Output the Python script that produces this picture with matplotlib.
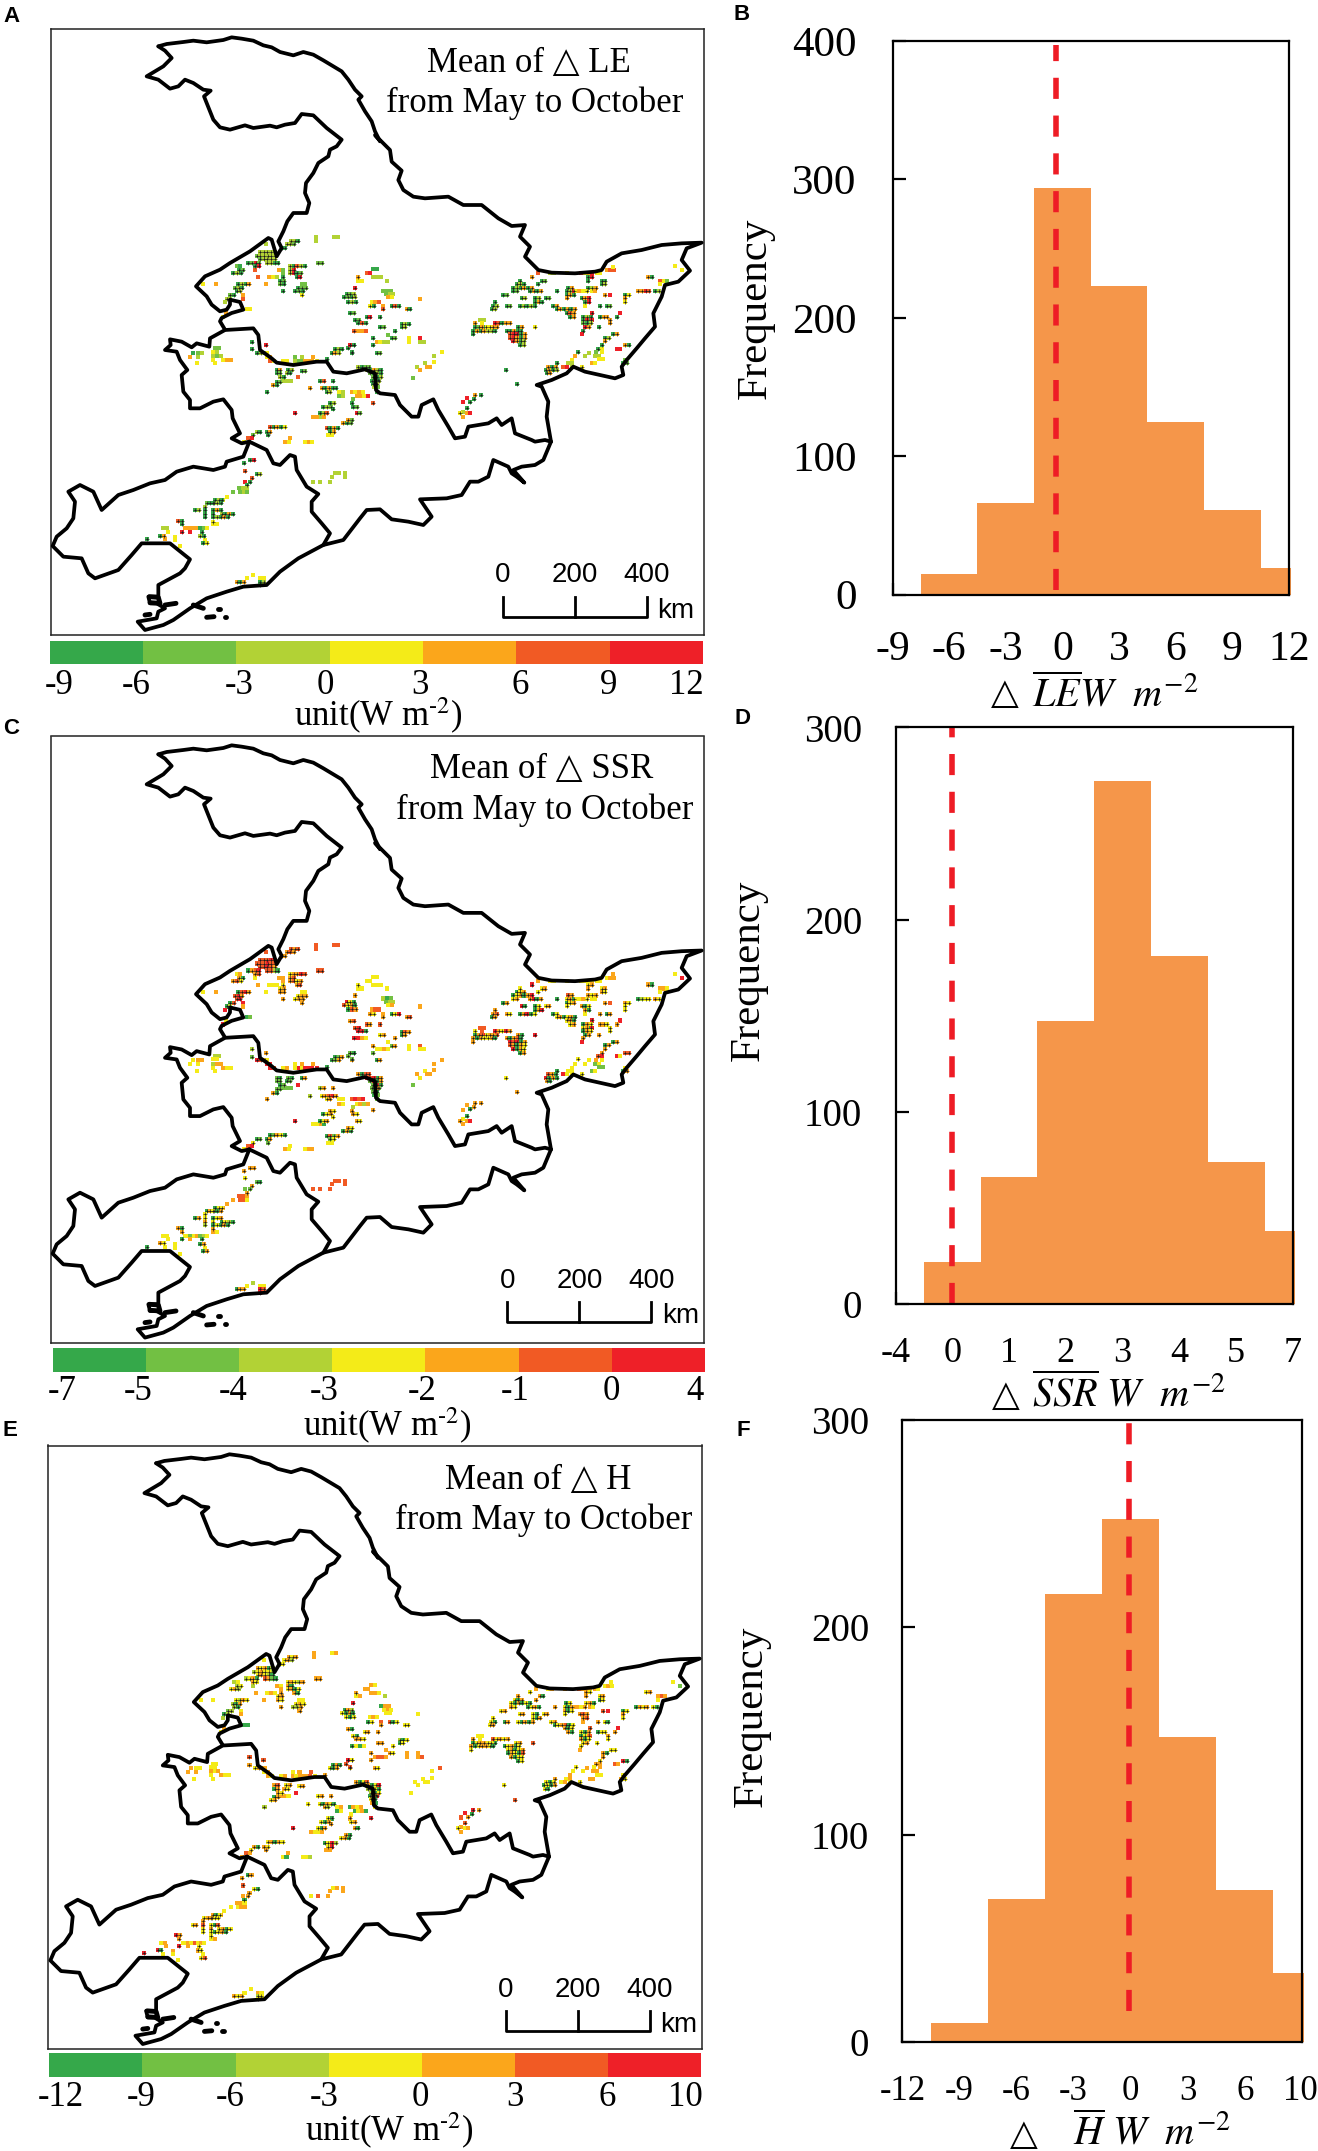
import matplotlib
matplotlib.use("Agg")
import matplotlib.pyplot as plt

W, H = 1318, 2151

# boundaries, traced on panel A in three crops, (origin x, origin y, points at 3x)
borderTraces = [
(50, 28, [(325,55),(350,48),(400,42),(430,38),(470,43),(520,36),(545,28),(575,32),(610,38),(640,52),(665,58),(690,72),(730,82),(760,72),(790,80),(820,97),(850,115),(875,130),(895,155),(915,185),(935,205),(925,215),(945,250),(965,280),(975,310),(990,340)]),
(50, 28, [(325,55),(345,68),(365,90),(340,115),(290,145),(325,155),(360,182),(385,175),(405,155),(430,165),(460,185),(482,188),(462,205),(470,225),(490,275),(510,298),(540,305),(585,292),(610,300),(660,293),(680,298),(705,290),(735,285),(755,258),(790,262),(830,300),(875,335),(860,355),(840,365),(835,385),(805,405),(790,435),(768,465),(765,495),(778,525),(770,555),(730,555),(712,580),(700,610),(685,640),(695,660),(680,685),(665,635),(655,630),(600,670),(540,705),(510,725),(465,745),(438,775),(470,805),(485,830),(510,850),(530,845),(540,830),(540,815),(570,822),(580,845),(545,855),(515,870),(510,880),(525,905)]),
(375, 100, [(15,123),(0,105),(45,150),(50,185),(80,212),(70,240),(85,270),(115,290),(150,295),(220,290),(265,315),(320,315),(370,355),(410,378),(450,375),(435,410),(465,440),(450,470),(490,510),(530,518),(600,520),(660,515),(680,510),(695,485),(740,460),(800,450),(860,435),(920,430),(980,428),(935,445),(920,480),(945,512),(910,545),(870,555),(860,590),(835,640),(840,680),(810,715),(785,745),(755,780),(740,800),(745,825),(720,835),(630,815),(595,800),(575,820),(530,840),(485,855),(500,860),(520,905),(515,950),(528,1025)]),
(375, 310, [(528,395),(505,450),(480,465),(440,470),(415,480),(448,518),(425,500),(410,490),(400,470),(355,450),(340,500),(310,515),(285,515),(260,555),(215,565),(135,568),(170,620),(145,645),(100,635),(50,628),(15,598),(-25,600),(-45,625),(-95,690),(-155,705),(-230,745),(-285,785),(-325,825),(-395,830),(-445,845),(-505,865),(-555,895),(-605,930),(-635,945),(-690,960),(-712,935),(-655,925),(-650,905),(-630,895),(-655,880),(-675,880),(-680,860),(-650,860),(-650,825),(-585,790),(-570,775),(-555,748),(-615,700),(-700,700),(-730,735),(-770,780),(-840,805),(-860,790),(-880,745),(-935,740),(-967,708),(-955,680),(-925,655),(-905,625),(-900,575),(-920,545),(-885,525),(-845,545),(-820,600),(-770,555),(-725,540),(-675,520),(-630,510),(-595,485),(-545,470),(-485,480),(-450,470),(-445,455),(-395,440),(-377,395)]),
(50, 310, [(598,395),(575,400),(545,385),(570,370),(548,325),(545,300),(520,268),(490,275),(450,295),(420,295),(420,270),(400,245),(395,195),(412,180),(390,150),(380,125),(345,120),(362,105),(360,88),(395,95),(425,112),(440,100),(478,110),(480,85),(525,60),(610,55),(625,75),(630,120),(665,145),(680,158),(730,165),(800,155),(830,155),(850,185),(890,190),(945,178),(975,190),(978,240),(990,250),(1035,255),(1050,285),(1085,320),(1105,320),(1115,285),(1150,268),(1165,300),(1195,350),(1215,385),(1245,380),(1255,350),(1315,340),(1340,325),(1355,345),(1385,325),(1395,370),(1445,390),(1455,395),(1485,390),(1503,395)]),
(50, 310, [(598,395),(650,420),(670,460),(690,465),(720,435),(735,440),(740,480),(770,530),(805,552),(785,575),(785,605),(815,640),(840,670),(820,705)]),
]
thickBlobs = [
(50, 310, [(298,860),(325,862),(330,880),(300,878)]),
(50, 310, [(345,885),(378,880)]),
(50, 310, [(285,915),(300,913)]),
(50, 310, [(430,885),(460,895)]),
(50, 310, [(470,922),(492,920)]),
(50, 310, [(505,896),(509,896)]),
(50, 310, [(524,920),(528,920)]),
]

# grid cells: x, y, significant, class per cell in A, C, E
# crop at x=180, y=220
midCells = [
(408,52,0,"2","5","4"),(408,63,0,"2","5","4"),(462,52,0,"22","55","34"),
(333,62,1,"220","545","434"),(320,73,1,"221","454","342"),(305,84,1,"20","54","23"),(258,72,0,"2","5","3"),
(240,96,1,"22222","55565","43402"),(230,107,1,"122222","555655","234332"),(240,118,1,"12222","55654","34320"),
(205,128,1,"0161","0456","2340"),(262,128,1,"2200","5520","5410"),(415,128,1,"11","55","44"),
(170,138,0,"10","34","23"),(225,138,1,"06","45","43"),(330,138,1,"20520","34465","34324"),
(178,150,1,"01","40","23"),(298,150,0,"4","4","4"),(310,150,0,"1","4","3"),(330,150,1,"26","45","40"),(225,150,0,"5","3","2"),
(160,160,1,"020","453","342"),(310,160,0,"1","4","4"),(330,160,1,"2601","4534","3403"),(235,172,0,"5","4","4"),(268,172,0,"4","3","3"),(280,172,0,"32","33","43"),(310,172,1,"0","3","4"),(350,172,1,"06","45","40"),
(258,192,0,"4","3","4"),(300,182,1,"01","34","34"),(70,192,0,"3","3","3"),(107,192,0,"4","4","3"),(175,192,1,"0204","0564","3243"),(300,192,1,"10","44","43"),(365,192,0,"11","33","33"),
(165,204,1,"120","564","204"),(355,204,1,"011","344","343"),(310,214,1,"0","4","4"),(345,214,1,"01","34","22"),(370,214,1,"0","4","4"),(170,214,1,"02","56","20"),
(150,225,1,"10","05","12"),(190,225,0,"4","6","3"),(365,225,1,"3","4","4"),(190,236,0,"5","4","4"),(140,236,1,"22","02","02"),(135,246,0,"2","6","2"),(200,268,0,"33","01","00"),(130,290,0,"3","6","3"),(138,280,0,"4","3","4"),
(580,148,0,"00","33","43"),(560,160,0,"56","33","44"),(535,172,1,"4","3","4"),(580,172,0,"222","333","443"),(535,182,0,"33","33","34"),(622,182,0,"2","3","2"),
(610,212,0,"111","201","044"),(525,203,1,"6","4","6"),(500,222,1,"012","630","042"),(618,222,0,"122","122","343"),(493,232,1,"0102","5340","3040"),(625,232,0,"43","34","33"),(720,236,0,"4","4","3"),
(505,245,1,"020","054","303"),(575,245,0,"345","455","343"),(570,258,1,"30","43","03"),(635,258,1,"050","036","503"),(610,258,0,"4","4","5"),(610,268,1,"5","4","4"),(680,268,1,"40","45","33"),(510,280,1,"01","45","40"),
(560,290,1,"06","54","34"),(600,290,1,"0","5","4"),(525,300,1,"01","56","30"),(535,310,1,"050","660","443"),(665,312,1,"020","054","203"),(665,322,1,"02","04","03"),(600,322,1,"01","34","44"),(523,332,1,"5","6","0"),(535,332,0,"445","643","303"),(645,332,1,"0","4","3"),
(625,344,0,"1","3","4"),(580,354,1,"0","4","4"),(635,354,1,"01","14","43"),(720,354,0,"6","5","4"),(590,365,0,"4322","3343","4554"),(688,354,0,"3","3","4"),(688,365,0,"3","3","4"),(720,365,0,"22","33","45"),
(580,375,1,"0","1","4"),(510,375,1,"50","30","60"),(505,385,1,"0","1","5"),(515,398,1,"0","4","3"),(590,398,1,"01","04","43"),
]
# crop at x=375, y=310
farCells = [
(200,127,0,"3","4","5"),(178,138,0,"2","4","3"),(178,157,0,"3","4","3"),(150,160,0,"2","3","3"),(125,170,0,"2","4","3"),(135,180,0,"4","3","3"),(155,170,0,"44","44","33"),(113,203,0,"1","1","3"),
]
# crop at x=50, y=310
southCells = [
(605,95,1,"0","2","5"),(647,105,1,"6","4","5"),(605,118,1,"0","1","4"),(622,128,1,"020","654","345"),(650,128,0,"3","3","4"),(650,140,0,"34","66","34"),(735,140,0,"1","3","3"),(755,140,0,"2","4","4"),(788,140,0,"4","4","5"),
(660,152,0,"53","65","43"),(700,152,0,"33","34","34"),(735,152,0,"211","363","434"),(765,152,0,"444","666","445"),(800,152,0,"3","6","3"),(830,148,1,"0","0","4"),
(855,118,1,"020","014","040"),(845,128,1,"042","014","304"),(900,105,1,"60","10","63"),(905,125,1,"0","1","5"),
(680,180,1,"04","10","45"),(715,180,1,"02","10","34"),(755,182,1,"01","04","34"),(680,190,1,"01","11","04"),(710,190,1,"20","01","43"),
(700,212,0,"222","111","443"),(745,202,0,"5","6","6"),(690,202,1,"20","01","43"),(680,215,1,"01","11","04"),(670,225,1,"40","40","34"),(650,245,1,"0","4","2"),
(810,212,1,"05","24","34"),(850,212,1,"0","4","4"),(780,235,1,"4","2","3"),(815,235,1,"40400","34564","30430"),(830,245,1,"02","34","42"),(868,245,0,"32","33","34"),(905,245,0,"4343","5656","0434"),
(868,258,0,"12","43","03"),(920,258,0,"4436","3424","0340"),(910,268,0,"1","2","3"),(905,280,1,"0","4","4"),(970,278,1,"5","4","6"),(840,280,1,"02","43","30"),(820,290,1,"021","034","304"),(850,297,1,"0","3","4"),(910,290,1,"01","43","34"),
(790,320,0,"4424","3340","4334"),(810,310,1,"025","034","304"),(920,310,1,"61","43","40"),(735,310,1,"6","6","6"),(880,340,1,"401","040","340"),(895,330,1,"41","43","40"),
(830,355,1,"5040","0514","0362"),(840,365,1,"04","13","36"),(835,375,0,"33","33","44"),(660,352,1,"50403","01430","34043"),(650,365,1,"04","04","43"),(655,375,1,"0","1","4"),
(720,385,0,"4","3","4"),(705,395,0,"43","43","30"),(765,395,0,"343","344","332"),(620,365,1,"20","01","40"),(610,375,1,"1","3","3"),(595,385,0,"56","56","54"),(583,395,0,"3","3","4"),
(925,170,1,"2011","4055","4035"),(950,180,1,"20420","65604","24036"),(960,190,1,"1020","1604","2030"),(970,202,1,"102","160","203"),(965,212,1,"012","101","026"),(970,222,1,"02","10","30"),(972,232,0,"21","01","40"),(985,210,1,"0","4","4"),(980,245,1,"0","1","3"),
(495,115,0,"11","22","33"),(430,128,0,"0","3","4"),(445,128,0,"12","44","33"),(490,125,0,"32","33","33"),(420,140,0,"4","3","4"),(445,140,0,"2","3","4"),(440,160,0,"3","3","3"),(490,138,0,"212","244","434"),(490,150,0,"3","3","3"),(520,150,0,"344","433","433"),(495,160,0,"3","3","3"),
(600,450,1,"06","44","04"),(583,460,1,"0","4","4"),(585,482,1,"5","3","5"),(620,492,1,"02","10","30"),(605,505,1,"5","4","4"),(585,515,0,"6","1","4"),(600,515,1,"0","1","4"),(590,525,1,"0","4","0"),
(568,535,0,"122","554","443"),(570,547,0,"121","553","344"),(550,547,0,"1","4","3"),(530,560,0,"3","4","3"),(520,570,0,"3","4","4"),(495,570,1,"020","033","403"),(470,580,1,"103","042","343"),(490,580,1,"020","304","433"),(435,600,1,"02","04","34"),(465,590,1,"2","3","4"),
(465,600,1,"0","3","5"),(490,600,1,"040","034","305"),(465,612,1,"0","4","3"),(490,612,1,"0","3","4"),(515,612,1,"2040","0320","3403"),(465,622,1,"0","2","3"),(490,622,1,"02040","03040","30340"),(490,635,1,"3","4","3"),
(385,632,1,"50","40","64"),(395,642,1,"0","4","4"),(490,642,0,"33","43","34"),(405,655,0,"44","33","33"),(420,655,0,"444","134","435"),(450,655,0,"01","12","34"),(340,655,0,"22","33","34"),(355,665,0,"3","3","4"),(395,665,1,"6","0","6"),
(420,665,0,"6","4","4"),(455,665,1,"0","0","3"),(470,655,0,"3","3","3"),(330,677,1,"04","43","60"),(375,680,0,"3","3","4"),(345,688,0,"4","3","3"),(290,687,1,"0","0","6"),(450,678,1,"20","04","43"),(465,690,0,"3","3","3"),(375,690,0,"3","3","3"),(460,700,1,"03","04","35"),(390,708,0,"3","3","3"),
(560,815,1,"404","044","434"),(590,805,0,"3","3","3"),(610,795,0,"3","2","3"),(630,805,0,"33","33","43"),(630,815,1,"02","65","23"),(630,825,1,"0","6","3"),
(788,515,0,"2","5","3"),(810,515,0,"2","5","5"),(840,515,0,"2","5","4"),(845,500,0,"2","5","4"),(855,490,0,"22","55","34"),(885,490,0,"2","5","4"),(885,500,0,"2","5","4"),
]
# crop at x=375, y=100
eastCells = [
(490,520,0,"5","4","4"),(525,520,0,"22","33","34"),(575,520,0,"3","3","4"),(618,520,0,"6","3","5"),(630,520,0,"34","33","44"),(652,520,0,"6","3","4"),(665,520,0,"33","33","43"),(695,510,0,"455","344","343"),(715,500,0,"3","4","3"),
(470,530,1,"4","6","3"),(640,530,1,"06","34","43"),(435,542,1,"0","3","4"),(500,542,1,"01","34","40"),(640,542,1,"0","4","4"),(680,542,1,"00","34","34"),
(425,553,1,"020","034","304"),(490,553,1,"0","3","4"),(680,553,1,"02","43","03"),(415,563,1,"0204","0340","3040"),(460,563,1,"04","46","30"),(580,563,1,"04","54","03"),(640,563,1,"024","434","340"),
(415,574,1,"01","34","43"),(465,574,1,"0404","4604","0340"),(545,574,1,"0","0","4"),(575,574,1,"026","340","304"),(602,574,0,"343","334","443"),(635,574,1,"3","3","4"),(650,574,0,"34","33","43"),(690,585,1,"4","4","5"),(705,585,0,"6","5","6"),
(385,585,1,"01","04","34"),(440,595,1,"02","60","34"),(575,585,1,"040","034","403"),(480,595,1,"02","03","30"),(512,595,1,"01","34","34"),(575,595,1,"4","3","3"),(620,595,1,"046","403","454"),(750,585,1,"03","43","03"),
(360,606,1,"0","4","3"),(480,606,1,"040","046","304"),(630,606,1,"06","40","45"),(750,595,1,"4","3","4"),(750,606,1,"3","3","3"),
(355,618,1,"02","45","30"),(395,618,1,"01","43","04"),(435,618,1,"02020","04603","30404"),(535,618,1,"04","03","34"),(630,618,0,"3","3","4"),(675,618,1,"0","4","4"),(695,618,1,"01","04","30"),
(350,628,1,"02","04","34"),(545,628,1,"040404","340340","034503"),(575,638,1,"054","340","403"),(650,638,1,"6","6","5"),(735,638,0,"6","6","6"),
(585,650,1,"04","34","40"),(625,650,1,"020","043","304"),(675,650,1,"04","44","03"),(695,650,1,"4","3","3"),(725,650,1,"0","4","4"),
(315,660,0,"22","55","33"),(625,660,1,"060","340","034"),(650,660,0,"6","6","5"),(705,660,1,"4","3","4"),
(300,670,1,"4","3","4"),(322,670,0,"3","5","3"),(360,670,1,"65044","64364","53434"),(625,670,1,"102","043","403"),(705,670,1,"4","3","3"),
(300,682,1,"0140214","0456045","0344040"),(335,682,0,"334","344","433"),(430,682,1,"04","40","34"),(480,682,1,"3","6","5"),(630,682,1,"64","04","34"),(672,682,1,"0","4","3"),
(295,692,1,"0404220","4043340","4034430"),(395,692,1,"00400","40450","03403"),(625,692,1,"0","4","3"),
(295,703,1,"0","4","3"),(405,703,1,"56604","65604","34034"),(620,703,0,"6","6","4"),(715,703,1,"04","04","33"),(405,713,1,"56404","54043","04305"),(690,713,1,"02","04","40"),
(415,724,1,"6402","6043","4033"),(690,724,1,"4","4","4"),(435,736,1,"02","04","03"),(680,736,1,"0","4","3"),(725,746,0,"66","63","54"),(750,736,1,"40","55","60"),(668,746,1,"0","5","4"),(680,746,0,"3","6","4"),(610,755,1,"0","3","3"),(662,756,0,"1","4","3"),(680,756,0,"3","3","4"),
(600,768,0,"4","3","3"),(630,768,0,"2","3","3"),(642,758,0,"2","3","4"),(660,768,0,"22","13","44"),(672,778,0,"33","11","33"),(590,780,0,"3","3","4"),(580,790,0,"22","33","34"),(545,790,1,"0","0","4"),(520,800,1,"404","540","303"),(650,790,0,"43","13","44"),
(512,810,1,"0402","6040","0304"),(565,800,0,"56","63","34"),(590,800,0,"2","3","3"),(620,800,1,"3","3","3"),(745,790,1,"01","04","43"),(750,780,1,"1","3","3"),(515,820,1,"04","40","30"),
(393,810,1,"0","3","3"),(425,853,1,"0","4","5"),
(300,885,1,"4","4","6"),(318,885,1,"0","4","4"),(275,893,0,"6","4","6"),(265,907,0,"6","4","5"),(285,905,1,"0","0","4"),(297,897,1,"0","4","0"),(275,925,1,"0","0","5"),(265,935,0,"2","3","4"),(255,940,1,"3","4","3"),(275,940,0,"46","46","34"),(265,950,0,"4","4","4"),
(820,530,1,"40","40","34"),(900,498,0,"3","3","3"),(920,510,0,"3","6","1"),(855,542,0,"531","443","454"),(855,553,0,"3","3","3"),(790,574,1,"4465","0233","0434"),(840,574,1,"02","43","30"),
]
cellGroups = [(180, 220, midCells), (375, 310, farCells), (50, 310, southCells), (375, 100, eastCells)]

palette = ["#35a84a", "#72c043", "#b2d235", "#f4eb18", "#fba61b", "#f15a24", "#ee2028"]

# histograms
leEdges = [-7.5, -4.5, -1.5, 1.5, 4.5, 7.5, 10.5, 12.1]
leCounts = [15, 66, 294, 223, 125, 61, 19]
ssrEdges = [-0.5, 0.5, 1.5, 2.5, 3.5, 4.5, 5.5, 6.03]
ssrCounts = [22, 66, 147, 272, 181, 74, 38]
hEdges = [-10.5, -7.5, -4.5, -1.5, 1.5, 4.5, 7.5, 9.1]
hCounts = [9, 69, 216, 252, 147, 73, 33]

leTicks = [-9, -6, -3, 0, 3, 6, 9, 12]
ssrTicks = [-1, 0, 1, 2, 3, 4, 5, 6]
ssrTickLabels = ["-4", "0", "1", "2", "3", "4", "5", "7"]
hTicks = [-12, -9, -6, -3, 0, 3, 6, 8.9]
hTickLabels = ["-12", "-9", "-6", "-3", "0", "3", "6", "10"]

# colour bars
leBarLabels = ["-9", "-6", "-3", "0", "3", "6", "9", "12"]
ssrBarLabels = ["-7", "-5", "-4", "-3", "-2", "-1", "0", "4"]
hBarLabels = ["-12", "-9", "-6", "-3", "0", "3", "6", "10"]

plt.rcParams["font.family"] = ["Liberation Serif", "DejaVu Sans"]
plt.rcParams["mathtext.fontset"] = "stix"

fig = plt.figure(figsize=(W / 100, H / 100), dpi=100)


def axesAt(x0, y0, x1, y1):
    return fig.add_axes([x0 / W, 1 - y1 / H, (x1 - x0) / W, (y1 - y0) / H])


def figText(x, y, s, **kw):
    fig.text(x / W, 1 - y / H, s, ha=kw.pop("ha", "center"), va=kw.pop("va", "center"), **kw)


def drawMap(box, column, titleA, titleB, titlePos, barX, barY, labelY):
    ax = axesAt(*box)
    ax.set_xlim(50.7, 703.7)
    ax.set_ylim(635, 28.5)
    ax.set_xticks([])
    ax.set_yticks([])
    for sp in ax.spines.values():
        sp.set_linewidth(1.1)
        sp.set_color("#222222")

    xs, ys, cols, sigX, sigY = [], [], [], [], []
    for ox, oy, runs in cellGroups:
        for run in runs:
            for i, c in enumerate(run[column]):
                px = ox + (run[0] + 11 * i) / 3
                py = oy + run[1] / 3
                xs.append(px)
                ys.append(py)
                cols.append(palette[int(c)])
                if run[2]:
                    sigX.append(px)
                    sigY.append(py)
    ax.scatter(xs, ys, s=8.5, marker="s", c=cols, linewidths=0, zorder=2)
    ax.scatter(sigX, sigY, s=5, marker="+", c="#1a1a1a", linewidths=0.45, zorder=3)

    for ox, oy, line in borderTraces:
        ax.plot([ox + p[0] / 3 for p in line], [oy + p[1] / 3 for p in line], color="black", lw=2.7, zorder=4,
                solid_joinstyle="round", solid_capstyle="round", clip_on=False)
    for ox, oy, line in thickBlobs:
        ax.plot([ox + p[0] / 3 for p in line], [oy + p[1] / 3 for p in line], color="black", lw=3.5, zorder=4,
                solid_capstyle="round")

    ax.text(titlePos[0], titlePos[1], titleA, ha="center", va="center", fontsize=25, zorder=5)
    ax.text(titlePos[2], titlePos[3], titleB, ha="center", va="center", fontsize=25, zorder=5)

    # scale bar
    bx = [barX, barX + 72, barX + 144]
    ax.plot([bx[0], bx[0], bx[2], bx[2]], [barY - 20, barY, barY, barY - 20], color="black", lw=2, zorder=5)
    ax.plot([bx[1], bx[1]], [barY - 20, barY], color="black", lw=2, zorder=5)
    for x, s in zip(bx, ["0", "200", "400"]):
        ax.text(x, labelY, s, ha="center", va="center", fontsize=20, family="Liberation Sans")
    ax.text(barX + 173, barY - 6, "km", ha="center", va="center", fontsize=20, family="Liberation Sans")


def drawBar(box, labels, positions, labelPad):
    ax = axesAt(*box)
    ax.barh([0] * 7, [1] * 7, left=range(7), height=1, color=palette, linewidth=0)
    ax.set_xlim(0, 7)
    ax.set_ylim(-0.5, 0.5)
    ax.set_yticks([])
    ax.set_xticks(positions)
    ax.set_xticklabels(labels, fontsize=25)
    ax.tick_params(axis="x", length=0, pad=labelPad)
    for sp in ax.spines.values():
        sp.set_visible(False)


def drawHist(box, edges, counts, xlim, ylim, ticks, tickLabels, yticks, lineX, lineY, xSize, ySize, xpad, ypad):
    ax = axesAt(*box)
    ax.bar(edges[:-1], counts, width=[b - a for a, b in zip(edges[:-1], edges[1:])], align="edge",
           color="#f5964a", linewidth=0, clip_on=False, zorder=2)
    ax.plot([lineX, lineX], lineY, color="#ee1c25", lw=4, dashes=(3.8, 3.0), zorder=4, clip_on=False)
    ax.set_xlim(*xlim)
    ax.set_ylim(*ylim)
    ax.set_xticks(ticks)
    ax.set_xticklabels(tickLabels, fontsize=xSize)
    ax.set_yticks(yticks)
    ax.set_yticklabels([str(v) for v in yticks], fontsize=ySize)
    ax.tick_params(axis="both", direction="in", length=9, width=1.6, zorder=5)
    ax.tick_params(axis="x", pad=xpad)
    ax.tick_params(axis="y", pad=ypad)
    for sp in ax.spines.values():
        sp.set_linewidth(1.6)
        sp.set_zorder(5)


drawMap((50.7, 28.5, 703.7, 635), 3, "Mean of △ LE", "from May to October", (529, 63, 535, 103), 502.7, 616.7, 575)
drawMap((50.7, 736.5, 703.7, 1342.6), 4, "Mean of △ SSR", "from May to October", (541.5, 62, 545, 102.5), 507.4, 614.4, 573)
drawMap((48.4, 1445.5, 701.8, 2049), 5, "Mean of △ H", "from May to October", (540.5, 64, 546, 104), 507.8, 616.5, 576)

drawBar((49.8, 640.5, 702.8, 663.5), leBarLabels, [0.1, 0.93, 2.03, 2.95, 3.97, 5.04, 5.99, 6.82], 4)
drawBar((52.5, 1348, 705, 1372), ssrBarLabels, [0.1, 0.92, 1.94, 2.92, 3.97, 4.96, 6.0, 6.89], 2)
drawBar((49.3, 2053, 701.4, 2077), hBarLabels, [0.12, 0.99, 1.94, 2.95, 3.98, 5.0, 5.99, 6.83], 3)

drawHist((892.5, 41, 1289, 594.6), leEdges, leCounts, (-9, 12), (0, 400), leTicks, leTicks, [0, 100, 200, 300, 400],
         -0.33, (3, 397), 30, 31, 26, 26)
drawHist((895.5, 727.5, 1293, 1303.8), ssrEdges, ssrCounts, (-1, 6), (0, 300), ssrTicks, ssrTickLabels, [0, 100, 200, 300],
         0, (0, 300), 26, 28, 24, 24)
drawHist((902.4, 1420, 1302, 2041.8), hEdges, hCounts, (-12, 9), (0, 300), hTicks, hTickLabels, [0, 100, 200, 300],
         -0.1, (15, 300), 25, 28, 24, 24)

unitText = r"unit(W m$^{\mathrm{\text{-2}}}$)"
figText(378, 716, unitText, fontsize=25)
figText(387, 1426, unitText, fontsize=25)
figText(389, 2131, unitText, fontsize=25)

figText(756, 308, "Frequency", fontsize=31, rotation=90)
figText(749, 970, "Frequency", fontsize=31, rotation=90)
figText(752, 1716, "Frequency", fontsize=31, rotation=90)

# axis labels: the triangle is a plain glyph, the rest is math
figText(1005, 695, "△", fontsize=26)
figText(1032, 695, r"$\overline{LE}W\ \ m^{-2}$", fontsize=29, ha="left")
figText(1006, 1397, "△", fontsize=26)
figText(1032, 1395, r"$\overline{SSR}\ W\ \ m^{-2}$", fontsize=29, ha="left")
figText(1024, 2136, "△", fontsize=26)
figText(1073, 2133, r"$\overline{H}\ W\ \ m^{-2}$", fontsize=29, ha="left")

letterPos = {"A": (11.5, 16), "B": (742, 14), "C": (11.5, 729), "D": (743, 719), "E": (10, 1430), "F": (743, 1430)}
for k, p in letterPos.items():
    figText(p[0], p[1], k, fontsize=16, fontweight="bold", family="Liberation Sans")

fig.savefig("out.png", dpi=100, facecolor="white")
